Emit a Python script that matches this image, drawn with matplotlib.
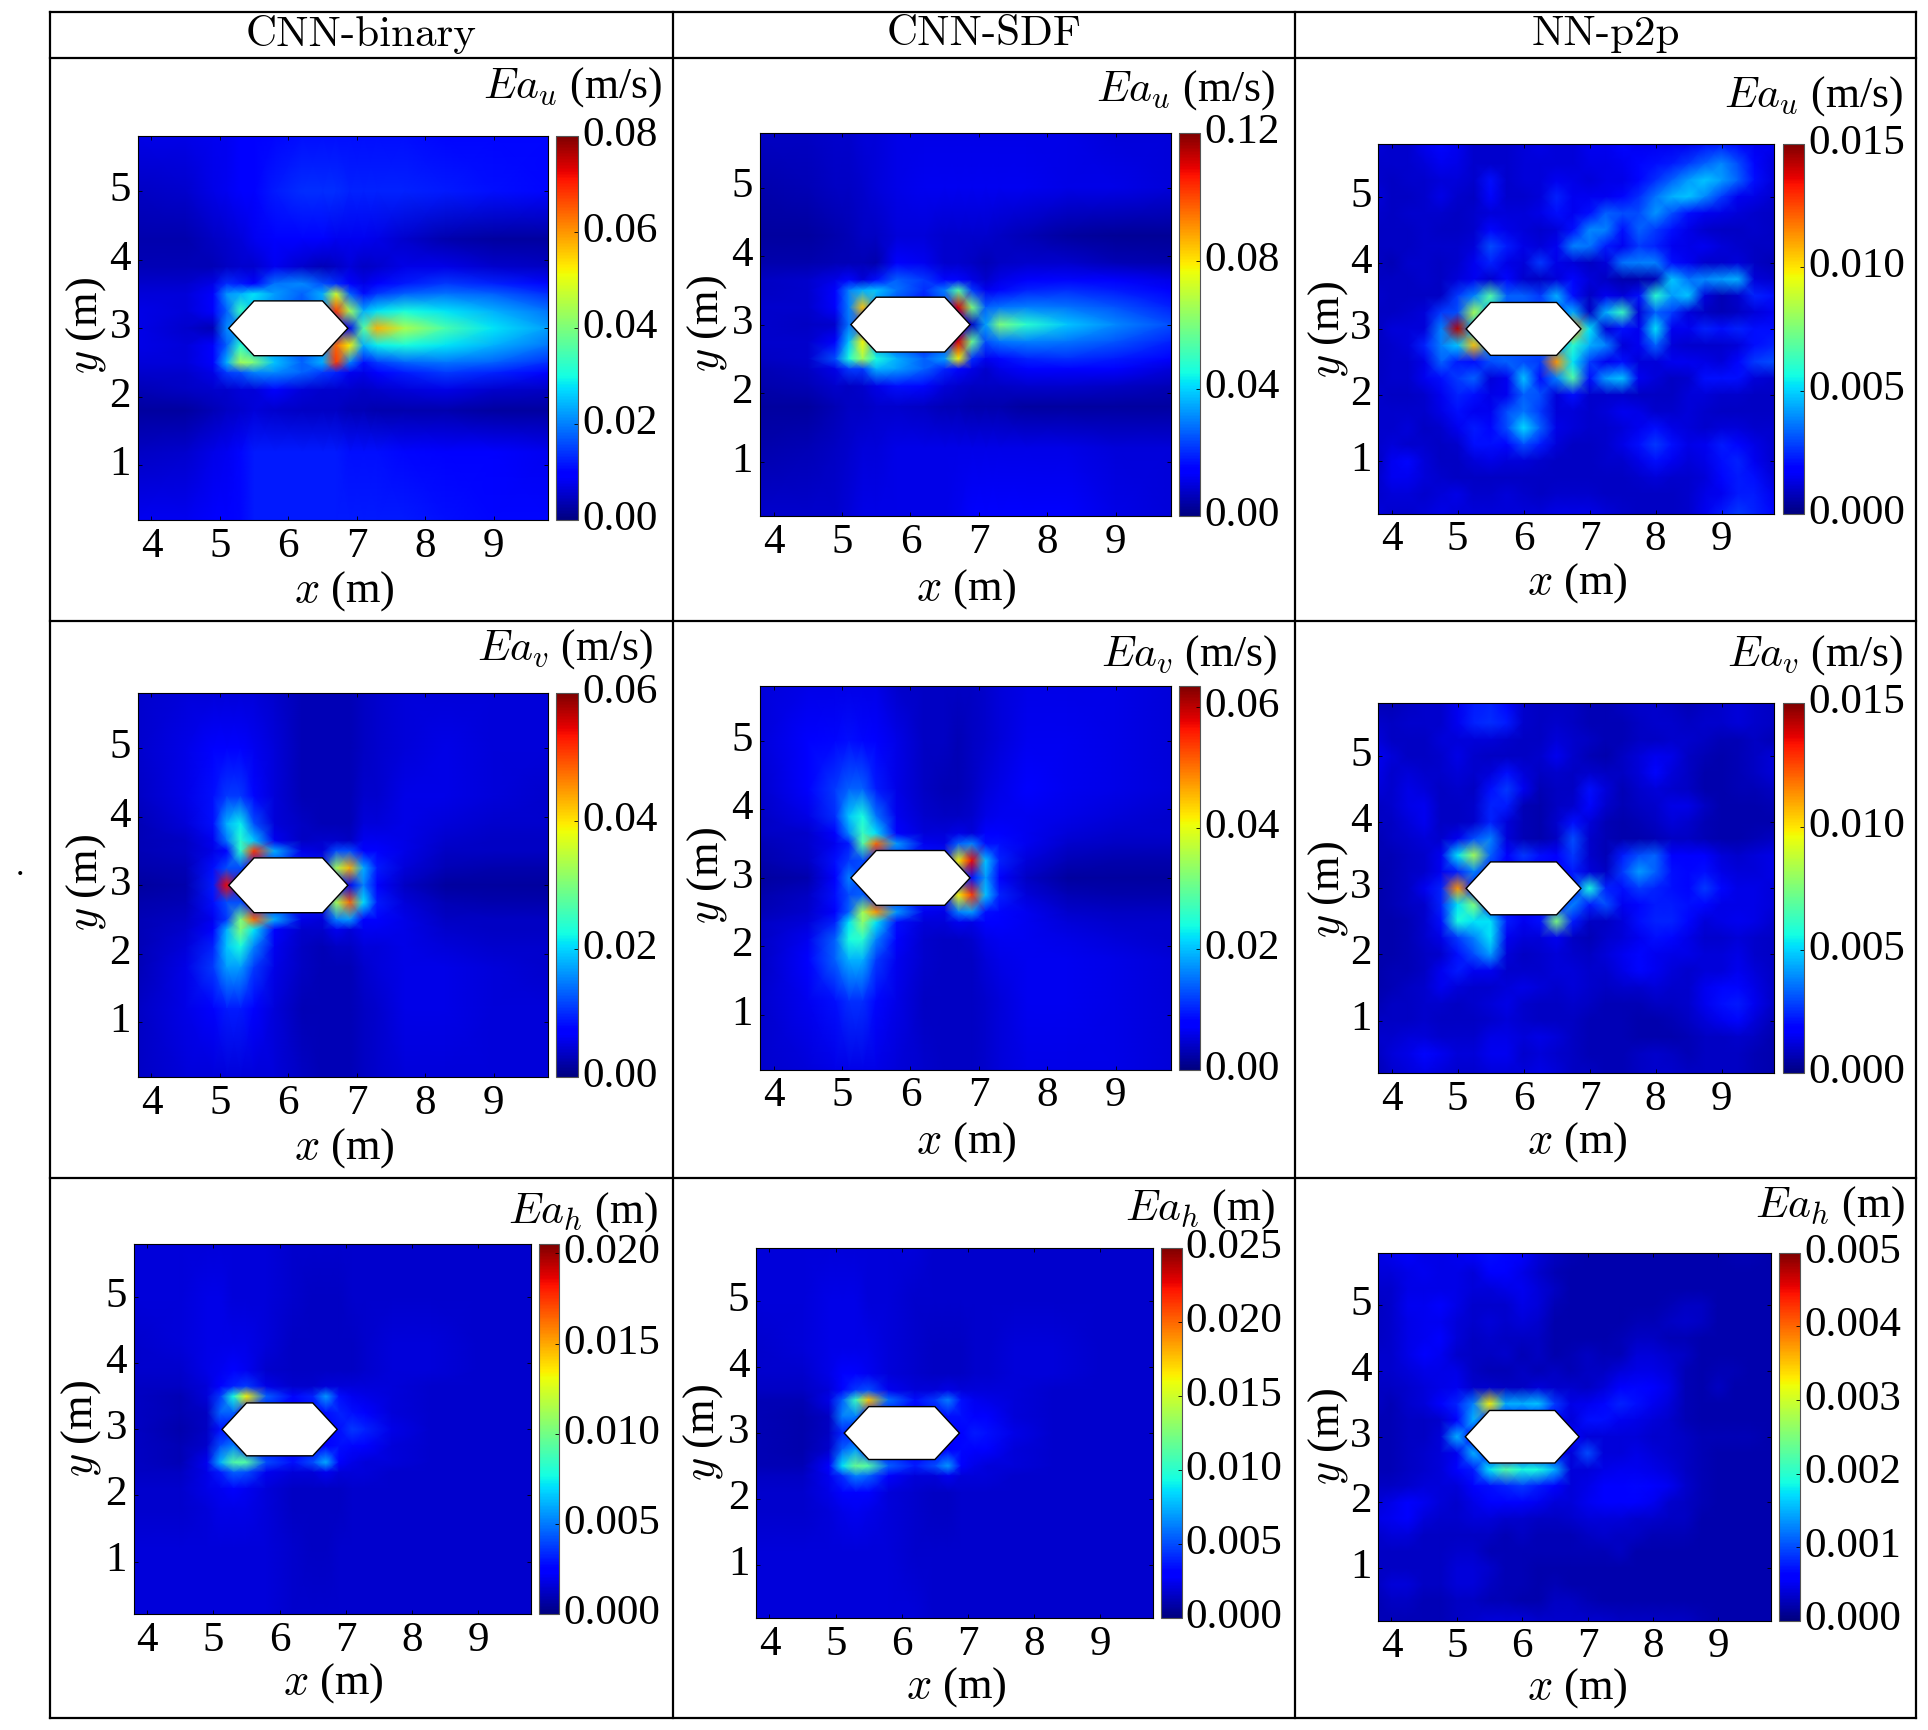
import numpy as np
import matplotlib
matplotlib.use('Agg')
import matplotlib.pyplot as plt
from matplotlib.lines import Line2D
from matplotlib.patches import Polygon
from matplotlib.transforms import ScaledTranslation

plt.rcParams['font.family'] = ['Liberation Serif', 'DejaVu Serif']
plt.rcParams['mathtext.fontset'] = 'cm'

# sample positions, m
grid_x = [3.8, 4.5, 4.9, 5.1, 5.3, 5.5, 5.8, 6.2, 6.5, 6.7, 6.9, 7.1, 7.3, 7.7, 8.3, 9.0, 9.8]
grid_y = [5.8, 5.0, 4.3, 3.9, 3.65, 3.5, 3.25, 3.0, 2.75, 2.5, 2.35, 2.1, 1.8, 1.2, 0.2]
fine_x = [3.8, 4.0, 4.25, 4.5, 4.75, 5.0, 5.25, 5.5, 5.75, 6.0, 6.25, 6.5, 6.75, 7.0, 7.25, 7.5, 7.75, 8.0,
          8.25, 8.5, 8.75, 9.0, 9.25, 9.5, 9.8]
fine_y = [5.8, 5.5, 5.25, 5.0, 4.75, 4.5, 4.25, 4.0, 3.75, 3.5, 3.25, 3.0, 2.75, 2.5, 2.25, 2.0, 1.75, 1.5,
          1.25, 1.0, 0.75, 0.5, 0.2]

hex_x = [5.13, 5.5, 6.5, 6.87, 6.5, 5.5]
hex_y = [3.0, 3.4, 3.4, 3.0, 2.6, 2.6]

methods = ['CNN-binary', 'CNN-SDF', 'NN-p2p']
units = [r'$Ea_u$ (m/s)', r'$Ea_v$ (m/s)', r'$Ea_h$ (m)']

# error fields, percent of the top of each colour bar
binary_u = [
    [9, 9, 10, 10, 11, 12, 13, 14, 14, 14, 14, 14, 14, 14, 13, 13, 13],
    [6, 7, 9, 10, 11, 12, 15, 17, 17, 17, 16, 16, 16, 16, 15, 14, 13],
    [4, 4, 6, 7, 8, 10, 12, 12, 11, 10, 10, 10, 9, 7, 4, 3, 3],
    [5, 5, 5, 6, 7, 7, 10, 7, 5, 6, 8, 6, 7, 9, 9, 7, 6],
    [7, 7, 9, 17, 15, 11, 24, 26, 20, 17, 12, 9, 11, 15, 18, 16, 13],
    [8, 8, 12, 27, 30, 35, 28, 22, 30, 60, 22, 14, 18, 22, 24, 22, 17],
    [9, 8, 11, 22, 42, 30, 25, 20, 25, 85, 55, 30, 35, 38, 35, 30, 24],
    [9, 7, 5, 26, 20, 20, 20, 20, 20, 20, 10, 45, 72, 56, 44, 35, 28],
    [9, 8, 11, 22, 40, 30, 25, 20, 25, 80, 65, 30, 36, 38, 35, 30, 24],
    [8, 8, 12, 30, 55, 50, 32, 22, 30, 85, 25, 14, 18, 22, 24, 22, 17],
    [7, 7, 9, 18, 20, 25, 26, 22, 18, 16, 10, 9, 11, 15, 18, 16, 12],
    [5, 6, 7, 7, 8, 8, 11, 8, 7, 7, 7, 6, 7, 8, 9, 7, 6],
    [3, 3, 5, 6, 7, 8, 7, 6, 6, 6, 5, 5, 4, 4, 4, 3, 3],
    [6, 7, 9, 10, 13, 15, 15, 15, 15, 15, 14, 14, 14, 13, 12, 11, 10],
    [10, 10, 11, 12, 13, 15, 15, 15, 15, 15, 15, 15, 15, 15, 14, 13, 13]]
sdf_u = [
    [6, 6, 7, 7, 8, 8, 9, 9, 9, 9, 9, 9, 9, 9, 9, 8, 8],
    [4, 5, 6, 6, 7, 8, 9, 10, 10, 10, 10, 10, 10, 10, 9, 9, 8],
    [3, 3, 4, 5, 6, 6, 8, 8, 7, 7, 7, 7, 6, 5, 3, 2, 2],
    [4, 4, 5, 5, 5, 4, 11, 10, 7, 7, 6, 5, 6, 7, 7, 5, 4],
    [6, 7, 9, 13, 8, 14, 22, 18, 13, 13, 9, 7, 9, 12, 13, 12, 9],
    [6, 7, 11, 25, 30, 32, 24, 17, 25, 45, 18, 10, 13, 16, 17, 15, 12],
    [7, 7, 11, 25, 70, 25, 18, 14, 18, 92, 50, 22, 24, 25, 24, 21, 16],
    [7, 6, 7, 24, 15, 15, 15, 15, 15, 15, 6, 28, 50, 40, 32, 26, 20],
    [7, 7, 12, 32, 65, 25, 18, 14, 18, 92, 48, 20, 24, 25, 24, 21, 16],
    [6, 7, 20, 38, 55, 38, 30, 22, 28, 65, 17, 10, 13, 16, 17, 15, 12],
    [5, 6, 9, 18, 18, 30, 28, 22, 16, 13, 9, 7, 9, 11, 12, 11, 8],
    [4, 5, 7, 6, 7, 9, 14, 13, 8, 7, 6, 6, 6, 7, 7, 6, 5],
    [3, 3, 5, 6, 6, 7, 7, 6, 5, 5, 4, 4, 4, 3, 3, 3, 3],
    [4, 5, 6, 7, 8, 8, 9, 9, 9, 9, 9, 9, 9, 9, 9, 8, 8],
    [7, 7, 7, 8, 9, 9, 9, 9, 9, 10, 11, 12, 12, 12, 11, 9, 8]]
p2p_u = [
    [8, 7, 7, 10, 13, 10, 7, 7, 7, 8, 9, 8, 8, 10, 10, 13, 10, 10, 10, 10, 14, 15, 13, 10, 10],
    [7, 7, 7, 8, 10, 9, 7, 7, 7, 8, 8, 8, 8, 9, 9, 10, 13, 14, 15, 18, 22, 26, 20, 13, 8],
    [7, 6, 7, 7, 8, 8, 7, 14, 7, 8, 8, 10, 9, 8, 9, 9, 13, 17, 22, 28, 32, 28, 22, 14, 8],
    [8, 6, 6, 7, 9, 7, 6, 13, 7, 7, 8, 16, 10, 10, 10, 13, 17, 24, 30, 32, 26, 18, 10, 9, 7],
    [7, 6, 7, 7, 7, 6, 7, 8, 8, 8, 9, 14, 10, 14, 22, 20, 20, 27, 20, 14, 10, 9, 8, 7, 6],
    [6, 6, 6, 7, 6, 6, 7, 13, 9, 8, 7, 8, 14, 26, 25, 14, 22, 18, 14, 9, 7, 6, 6, 7, 6],
    [6, 6, 6, 7, 7, 7, 8, 20, 15, 9, 8, 10, 25, 24, 15, 10, 18, 16, 10, 9, 10, 8, 7, 6, 6],
    [6, 5, 7, 7, 6, 7, 10, 16, 9, 8, 18, 9, 8, 6, 8, 24, 25, 25, 14, 10, 7, 7, 8, 6, 5],
    [6, 6, 6, 7, 6, 8, 10, 7, 13, 7, 6, 8, 13, 8, 6, 4, 4, 5, 32, 24, 26, 28, 30, 8, 7],
    [7, 6, 6, 6, 6, 18, 25, 45, 22, 22, 18, 30, 14, 6, 10, 8, 14, 40, 28, 32, 8, 5, 7, 16, 14],
    [6, 6, 7, 8, 18, 20, 55, 30, 20, 20, 20, 20, 30, 6, 30, 42, 8, 22, 18, 8, 6, 5, 6, 8, 10],
    [6, 8, 8, 8, 25, 95, 30, 20, 20, 20, 20, 20, 75, 35, 8, 14, 10, 35, 10, 10, 16, 14, 16, 14, 14],
    [6, 7, 8, 16, 25, 32, 70, 25, 20, 20, 20, 25, 40, 30, 25, 8, 10, 22, 8, 7, 7, 7, 8, 14, 16],
    [6, 7, 7, 9, 22, 15, 14, 20, 22, 20, 18, 75, 35, 18, 10, 14, 8, 8, 10, 10, 9, 8, 13, 18, 20],
    [6, 7, 7, 10, 14, 18, 22, 8, 10, 32, 14, 25, 45, 14, 28, 32, 10, 8, 6, 7, 14, 14, 14, 8, 7],
    [7, 6, 6, 7, 10, 16, 14, 9, 10, 22, 20, 8, 14, 7, 7, 7, 6, 6, 6, 8, 8, 7, 7, 6, 6],
    [7, 7, 7, 7, 9, 14, 10, 10, 20, 24, 18, 8, 8, 7, 8, 10, 9, 7, 7, 8, 7, 6, 6, 6, 6],
    [7, 7, 8, 6, 7, 10, 15, 13, 20, 34, 22, 9, 8, 7, 7, 8, 10, 14, 9, 8, 7, 8, 8, 7, 7],
    [7, 8, 7, 7, 6, 7, 14, 14, 13, 20, 15, 8, 6, 6, 7, 9, 14, 18, 14, 9, 10, 15, 13, 9, 7],
    [6, 10, 13, 8, 6, 6, 8, 9, 8, 8, 7, 6, 6, 6, 7, 7, 9, 14, 10, 8, 9, 14, 16, 10, 7],
    [7, 10, 10, 8, 7, 6, 6, 6, 6, 6, 6, 6, 6, 6, 6, 6, 7, 8, 7, 7, 8, 13, 15, 14, 8],
    [7, 8, 8, 7, 8, 9, 7, 7, 8, 7, 6, 7, 7, 7, 6, 6, 6, 6, 6, 7, 9, 10, 15, 15, 10],
    [8, 7, 7, 8, 9, 8, 8, 8, 8, 8, 8, 9, 9, 9, 8, 7, 6, 6, 6, 7, 10, 15, 18, 16, 13]]
binary_v = [
    [7, 8, 8, 8, 8, 8, 7, 5, 5, 5, 5, 6, 7, 8, 8, 8, 8],
    [7, 9, 11, 11, 11, 10, 8, 5, 5, 5, 5, 6, 7, 8, 9, 8, 8],
    [6, 9, 14, 18, 18, 13, 8, 5, 5, 5, 5, 7, 7, 9, 9, 8, 7],
    [5, 8, 14, 30, 36, 20, 8, 6, 5, 5, 5, 8, 8, 9, 8, 7, 7],
    [5, 6, 10, 24, 40, 32, 10, 6, 7, 7, 6, 10, 10, 9, 7, 6, 6],
    [5, 6, 9, 13, 40, 85, 30, 9, 8, 20, 20, 12, 12, 9, 6, 6, 6],
    [4, 5, 14, 20, 20, 15, 15, 15, 15, 55, 72, 30, 15, 8, 5, 4, 4],
    [3, 4, 15, 90, 15, 15, 15, 15, 15, 15, 10, 25, 12, 6, 3, 3, 3],
    [4, 5, 14, 20, 20, 15, 15, 15, 15, 55, 80, 35, 15, 8, 5, 4, 4],
    [5, 6, 10, 18, 50, 80, 30, 9, 8, 25, 28, 12, 12, 9, 6, 6, 6],
    [5, 7, 12, 30, 50, 35, 12, 7, 7, 10, 8, 10, 10, 9, 7, 6, 6],
    [5, 8, 16, 32, 38, 25, 10, 6, 5, 6, 6, 8, 8, 9, 8, 7, 7],
    [5, 9, 18, 28, 28, 18, 9, 6, 5, 5, 5, 7, 8, 9, 9, 8, 7],
    [6, 9, 12, 15, 15, 12, 8, 5, 5, 5, 5, 6, 7, 9, 9, 8, 8],
    [6, 8, 8, 8, 8, 8, 8, 6, 5, 5, 5, 6, 7, 8, 8, 8, 8]]
sdf_v = [
    [8, 9, 9, 9, 9, 9, 7, 6, 6, 6, 6, 7, 8, 9, 9, 9, 8],
    [8, 11, 13, 14, 13, 11, 9, 6, 6, 5, 6, 7, 8, 10, 10, 9, 8],
    [7, 11, 18, 22, 22, 15, 9, 6, 5, 5, 6, 8, 9, 11, 10, 9, 8],
    [6, 9, 17, 32, 38, 24, 10, 7, 6, 6, 7, 9, 10, 10, 9, 8, 7],
    [6, 7, 12, 26, 42, 34, 12, 8, 8, 9, 8, 12, 11, 10, 8, 7, 7],
    [5, 7, 10, 15, 45, 80, 28, 10, 9, 22, 25, 14, 14, 10, 7, 6, 6],
    [4, 6, 14, 18, 20, 15, 15, 15, 15, 65, 90, 32, 16, 8, 5, 4, 4],
    [3, 4, 12, 25, 15, 15, 15, 15, 15, 15, 14, 28, 12, 6, 3, 3, 3],
    [4, 6, 14, 20, 22, 15, 15, 15, 15, 65, 85, 32, 16, 8, 5, 4, 4],
    [5, 7, 12, 22, 55, 75, 28, 10, 9, 25, 28, 14, 13, 10, 7, 6, 6],
    [6, 8, 16, 35, 52, 35, 14, 8, 8, 10, 9, 11, 11, 10, 8, 7, 7],
    [6, 10, 22, 38, 40, 25, 11, 7, 6, 6, 7, 9, 10, 10, 9, 8, 7],
    [6, 11, 22, 30, 30, 18, 10, 7, 6, 6, 6, 8, 9, 10, 10, 9, 8],
    [7, 10, 14, 17, 17, 13, 9, 6, 6, 6, 6, 7, 8, 10, 10, 9, 8],
    [7, 8, 9, 9, 9, 9, 8, 7, 6, 6, 6, 7, 8, 9, 9, 9, 8]]
p2p_v = [
    [5, 5, 6, 7, 7, 10, 15, 16, 13, 7, 6, 6, 6, 5, 5, 6, 7, 7, 6, 5, 6, 7, 8, 7, 6],
    [7, 6, 7, 7, 7, 10, 16, 17, 15, 7, 6, 7, 6, 5, 5, 5, 6, 7, 7, 6, 7, 7, 8, 7, 6],
    [8, 6, 6, 6, 8, 8, 8, 8, 7, 6, 6, 8, 7, 6, 5, 5, 6, 6, 7, 7, 6, 5, 5, 6, 5],
    [10, 8, 6, 6, 7, 9, 7, 6, 6, 6, 7, 10, 7, 5, 4, 6, 8, 10, 9, 6, 5, 4, 5, 6, 8],
    [9, 7, 8, 7, 7, 8, 7, 8, 14, 8, 6, 7, 6, 7, 6, 6, 8, 13, 8, 6, 4, 4, 5, 6, 8],
    [8, 7, 9, 8, 6, 7, 6, 14, 18, 10, 5, 6, 6, 14, 8, 5, 7, 8, 7, 6, 4, 4, 5, 5, 6],
    [6, 7, 9, 10, 6, 6, 7, 16, 15, 5, 4, 6, 7, 13, 7, 5, 6, 7, 9, 9, 6, 4, 4, 4, 5],
    [6, 6, 8, 10, 6, 6, 7, 16, 8, 5, 4, 7, 14, 8, 5, 4, 5, 6, 8, 7, 5, 4, 4, 4, 4],
    [5, 6, 7, 8, 7, 10, 20, 25, 8, 5, 4, 6, 20, 7, 5, 4, 4, 5, 6, 6, 5, 4, 4, 5, 6],
    [5, 5, 6, 7, 10, 35, 55, 22, 12, 18, 14, 12, 18, 7, 5, 15, 20, 22, 12, 11, 11, 8, 7, 8, 9],
    [4, 5, 6, 7, 10, 16, 25, 15, 12, 12, 12, 12, 15, 8, 6, 18, 28, 22, 14, 13, 14, 9, 8, 8, 9],
    [4, 5, 6, 10, 16, 75, 15, 12, 12, 12, 12, 12, 15, 38, 16, 14, 18, 16, 14, 13, 18, 13, 9, 9, 8],
    [4, 5, 6, 7, 16, 35, 50, 15, 12, 12, 12, 15, 25, 15, 20, 10, 13, 15, 15, 14, 13, 9, 9, 9, 8],
    [4, 4, 5, 7, 14, 38, 35, 35, 15, 10, 14, 50, 15, 6, 6, 8, 14, 16, 16, 13, 8, 9, 10, 9, 7],
    [4, 4, 5, 7, 9, 18, 25, 35, 10, 8, 8, 10, 6, 5, 7, 8, 10, 14, 13, 9, 7, 7, 8, 7, 6],
    [4, 4, 5, 6, 7, 14, 20, 28, 8, 6, 7, 8, 7, 6, 8, 10, 13, 10, 9, 9, 8, 8, 9, 7, 6],
    [4, 5, 5, 6, 10, 15, 10, 10, 7, 7, 7, 8, 8, 7, 7, 9, 13, 10, 8, 7, 8, 8, 10, 8, 6],
    [4, 5, 6, 7, 10, 8, 7, 7, 8, 9, 8, 7, 8, 7, 6, 7, 7, 8, 7, 7, 10, 13, 13, 9, 6],
    [5, 6, 6, 7, 7, 6, 7, 8, 9, 7, 6, 6, 7, 6, 5, 5, 5, 6, 6, 7, 10, 14, 15, 10, 6],
    [6, 6, 6, 7, 6, 6, 6, 7, 8, 7, 6, 6, 6, 5, 5, 5, 4, 4, 5, 6, 8, 10, 13, 8, 5],
    [7, 7, 8, 8, 7, 7, 7, 9, 9, 8, 9, 8, 6, 5, 5, 5, 4, 4, 4, 5, 6, 6, 7, 6, 4],
    [6, 8, 9, 13, 10, 8, 8, 10, 10, 7, 8, 7, 6, 5, 5, 5, 6, 7, 6, 5, 6, 6, 6, 5, 4],
    [5, 7, 8, 9, 8, 7, 7, 8, 8, 8, 9, 8, 6, 6, 5, 5, 6, 7, 7, 6, 6, 6, 6, 5, 4]]
binary_h = [
    [8, 8, 8, 8, 8, 8, 8, 7, 7, 7, 7, 7, 7, 7, 7, 7, 7],
    [8, 8, 9, 9, 8, 8, 8, 7, 6, 6, 6, 7, 7, 7, 7, 7, 7],
    [7, 8, 9, 9, 9, 9, 8, 6, 6, 6, 6, 6, 7, 8, 8, 7, 7],
    [7, 7, 9, 10, 11, 10, 7, 6, 6, 6, 6, 6, 7, 8, 8, 7, 7],
    [6, 6, 8, 12, 16, 18, 9, 7, 7, 8, 8, 8, 8, 8, 7, 7, 7],
    [6, 5, 8, 18, 38, 65, 22, 13, 16, 28, 14, 10, 9, 8, 7, 7, 7],
    [6, 5, 6, 22, 22, 12, 12, 12, 12, 14, 16, 14, 12, 8, 7, 7, 7],
    [6, 4, 6, 14, 12, 12, 12, 12, 12, 12, 14, 18, 16, 9, 7, 7, 7],
    [6, 5, 7, 20, 25, 12, 12, 12, 12, 12, 14, 13, 12, 8, 7, 7, 7],
    [6, 5, 10, 30, 45, 45, 20, 14, 20, 30, 12, 9, 8, 8, 7, 7, 7],
    [6, 6, 9, 15, 22, 20, 10, 8, 8, 10, 8, 8, 8, 7, 7, 7, 7],
    [7, 7, 9, 10, 11, 10, 8, 6, 6, 6, 6, 7, 7, 7, 7, 7, 7],
    [7, 7, 8, 9, 9, 9, 8, 6, 6, 6, 6, 7, 7, 7, 7, 7, 7],
    [8, 8, 8, 8, 8, 8, 8, 7, 6, 6, 7, 7, 7, 7, 7, 7, 7],
    [8, 8, 8, 8, 8, 8, 8, 7, 7, 7, 7, 7, 7, 7, 7, 7, 7]]
sdf_h = [
    [8, 8, 8, 8, 8, 8, 8, 8, 7, 7, 7, 7, 7, 7, 7, 7, 7],
    [8, 8, 9, 9, 9, 8, 8, 7, 7, 7, 7, 7, 7, 7, 7, 7, 7],
    [7, 8, 9, 9, 9, 9, 8, 7, 6, 6, 6, 7, 7, 8, 8, 7, 7],
    [7, 7, 9, 11, 11, 10, 8, 7, 6, 6, 6, 7, 7, 8, 8, 7, 7],
    [6, 6, 8, 13, 18, 20, 10, 8, 8, 9, 8, 8, 8, 8, 7, 7, 7],
    [5, 5, 9, 22, 42, 70, 24, 14, 18, 25, 14, 10, 9, 8, 7, 7, 7],
    [5, 4, 6, 25, 25, 12, 12, 12, 12, 14, 14, 12, 11, 8, 7, 7, 7],
    [5, 4, 6, 16, 12, 12, 12, 12, 12, 12, 12, 15, 14, 9, 7, 7, 7],
    [5, 4, 7, 22, 28, 12, 12, 12, 12, 12, 13, 12, 11, 8, 7, 7, 7],
    [5, 5, 12, 35, 48, 45, 22, 15, 20, 28, 12, 9, 8, 8, 7, 7, 7],
    [6, 6, 10, 17, 25, 22, 11, 8, 8, 10, 8, 8, 8, 7, 7, 7, 7],
    [7, 7, 9, 11, 12, 11, 8, 7, 6, 6, 7, 7, 7, 7, 7, 7, 7],
    [7, 7, 8, 9, 10, 9, 8, 7, 6, 6, 7, 7, 7, 7, 7, 7, 7],
    [8, 8, 8, 8, 8, 8, 8, 7, 7, 7, 7, 7, 7, 7, 7, 7, 7],
    [8, 8, 8, 8, 8, 8, 8, 8, 7, 7, 7, 7, 7, 7, 7, 7, 7]]
p2p_h = [
    [9, 10, 11, 9, 9, 10, 11, 14, 13, 11, 8, 6, 5, 4, 4, 4, 4, 4, 4, 4, 4, 4, 5, 5, 4],
    [8, 8, 9, 10, 9, 9, 8, 11, 11, 9, 7, 5, 4, 4, 4, 4, 4, 4, 4, 4, 4, 4, 4, 4, 4],
    [7, 7, 9, 9, 9, 9, 8, 8, 9, 10, 8, 6, 4, 4, 4, 4, 4, 4, 4, 4, 4, 4, 4, 4, 4],
    [6, 7, 10, 10, 11, 9, 7, 7, 7, 9, 8, 5, 4, 4, 4, 4, 4, 4, 5, 6, 6, 4, 4, 4, 4],
    [6, 7, 9, 10, 10, 8, 7, 8, 7, 8, 7, 4, 4, 4, 4, 4, 5, 5, 6, 7, 6, 4, 4, 4, 4],
    [6, 7, 9, 10, 11, 8, 6, 7, 6, 6, 6, 4, 4, 4, 4, 5, 6, 6, 5, 5, 4, 4, 4, 4, 4],
    [7, 7, 9, 11, 10, 7, 6, 6, 7, 5, 6, 4, 5, 6, 5, 5, 8, 8, 7, 6, 4, 4, 4, 4, 4],
    [7, 7, 8, 9, 9, 9, 6, 5, 5, 6, 5, 6, 5, 6, 6, 8, 9, 9, 8, 5, 4, 5, 5, 4, 4],
    [6, 6, 7, 8, 9, 10, 7, 7, 6, 6, 8, 7, 7, 6, 8, 11, 13, 12, 9, 5, 4, 6, 4, 4, 4],
    [6, 5, 7, 8, 12, 16, 25, 65, 30, 30, 32, 18, 9, 10, 13, 16, 14, 10, 8, 5, 4, 4, 4, 4, 4],
    [5, 5, 6, 6, 7, 11, 30, 15, 12, 12, 12, 12, 8, 14, 14, 10, 9, 8, 7, 5, 4, 4, 4, 4, 4],
    [5, 5, 6, 6, 8, 30, 12, 12, 12, 12, 12, 12, 12, 8, 8, 8, 8, 7, 7, 6, 5, 5, 5, 5, 4],
    [5, 5, 6, 7, 8, 10, 30, 15, 12, 12, 12, 12, 8, 20, 8, 8, 9, 8, 7, 6, 5, 4, 4, 4, 4],
    [5, 5, 6, 7, 8, 12, 15, 35, 45, 38, 38, 30, 8, 8, 9, 10, 10, 9, 8, 6, 5, 4, 4, 4, 4],
    [6, 6, 7, 8, 8, 8, 12, 14, 16, 18, 15, 12, 8, 9, 11, 12, 13, 12, 10, 7, 5, 4, 4, 4, 4],
    [8, 9, 11, 10, 8, 7, 9, 12, 12, 11, 10, 8, 8, 10, 12, 11, 11, 10, 7, 6, 5, 4, 4, 4, 4],
    [9, 10, 11, 8, 7, 7, 8, 8, 7, 7, 6, 6, 7, 8, 8, 8, 7, 7, 6, 6, 4, 4, 4, 4, 4],
    [7, 8, 8, 6, 6, 6, 6, 6, 5, 6, 5, 5, 5, 6, 7, 6, 6, 5, 5, 5, 4, 4, 4, 4, 4],
    [6, 6, 6, 6, 6, 7, 7, 5, 5, 5, 5, 5, 5, 5, 5, 6, 4, 4, 4, 4, 4, 4, 4, 4, 4],
    [6, 6, 6, 6, 6, 8, 8, 7, 5, 5, 4, 4, 4, 4, 4, 4, 4, 4, 4, 4, 4, 4, 4, 4, 4],
    [6, 8, 8, 6, 6, 8, 8, 6, 5, 5, 4, 5, 4, 4, 4, 4, 4, 4, 4, 4, 4, 4, 4, 4, 4],
    [5, 6, 6, 5, 5, 6, 6, 5, 5, 4, 4, 6, 6, 5, 4, 4, 4, 4, 4, 4, 4, 4, 4, 4, 4],
    [5, 5, 5, 5, 5, 6, 7, 8, 8, 8, 7, 7, 7, 7, 7, 6, 6, 6, 6, 6, 5, 4, 4, 4, 4]]

fields = [binary_u, sdf_u, p2p_u, binary_v, sdf_v, p2p_v, binary_h, sdf_h, p2p_h]
bar_tops = [0.08, 0.12, 0.015, 0.06, 0.0635, 0.015, 0.0205, 0.025, 0.005]
bar_ticks = [[0, 0.02, 0.04, 0.06, 0.08], [0, 0.04, 0.08, 0.12], [0, 0.005, 0.01, 0.015],
             [0, 0.02, 0.04, 0.06], [0, 0.02, 0.04, 0.06], [0, 0.005, 0.01, 0.015],
             [0, 0.005, 0.01, 0.015, 0.02], [0, 0.005, 0.01, 0.015, 0.02, 0.025],
             [0, 0.001, 0.002, 0.003, 0.004, 0.005]]
bar_fmt = ['%.2f', '%.2f', '%.3f', '%.2f', '%.2f', '%.3f', '%.3f', '%.3f', '%.3f']

# layout in pixels of the 1568x1407 view: left, right, top, bottom of axes, then colour bar left, right
W, H = 1568.0, 1407.0
boxes = [(112, 446, 111, 423, 452, 470), (618, 952, 108, 420, 959, 976), (1121, 1443, 117, 418, 1450, 1467),
         (112, 446, 564, 876, 452, 470), (618, 952, 558, 870, 959, 976), (1121, 1443, 572, 873, 1450, 1467),
         (109, 432, 1012, 1313, 438, 455), (615, 938, 1015, 1316, 944, 961), (1121, 1440, 1019, 1318, 1447, 1464)]
unit_pos = [(538, 71), (1037, 73), (1548, 78), (531, 528), (1039, 533), (1548, 533),
            (535, 986), (1037, 983), (1549, 981)]
xlabel_pos = [(280, 481), (786, 479), (1283, 474), (280, 934), (786, 929), (1283, 929),
              (271, 1369), (778, 1372), (1283, 1373)]
ylabel_pos = [(70, 265), (575, 263), (1080, 268), (70, 718), (575, 712), (1080, 723),
              (66, 1162), (572, 1165), (1080, 1168)]


def fx(px):
    return px / W


def fy(px):
    return 1 - px / H


fig = plt.figure(figsize=(19.28, 17.30), dpi=100)
nudge_up = ScaledTranslation(0, 3.5 / 72, fig.dpi_scale_trans)

for i in range(9):
    left, right, top, bottom, cleft, cright = boxes[i]
    ax = fig.add_axes([fx(left), fy(bottom), (right - left) / W, (bottom - top) / H])
    cax = fig.add_axes([fx(cleft), fy(bottom), (cright - cleft) / W, (bottom - top) / H])

    values = np.array(fields[i]) / 100.0 * bar_tops[i]
    if i % 3 == 2:
        xs, ys = fine_x, fine_y
    else:
        xs, ys = grid_x, grid_y
    mesh = ax.pcolormesh(xs, ys, values, shading='gouraud', cmap='jet', vmin=0, vmax=bar_tops[i])
    ax.add_patch(Polygon(np.column_stack([hex_x, hex_y]), closed=True, facecolor='white',
                         edgecolor='black', linewidth=1.0, zorder=3))
    ax.set_xlim(3.8, 9.8)
    ax.set_ylim(0.2, 5.8)
    ax.set_xticks([4, 5, 6, 7, 8, 9])
    ax.set_yticks([1, 2, 3, 4, 5])
    ax.tick_params(direction='in', length=3, width=0.6, top=True, right=True, labelsize=31, pad=5)
    for s in ax.spines.values():
        s.set_linewidth(0.8)
    for t in ax.get_yticklabels():
        t.set_transform(t.get_transform() + nudge_up)

    cb = fig.colorbar(mesh, cax=cax)
    cb.set_ticks(bar_ticks[i])
    cb.set_ticklabels([bar_fmt[i] % t for t in bar_ticks[i]])
    cax.tick_params(direction='in', length=3, width=0.6, labelsize=31, pad=3)
    cb.outline.set_linewidth(0.8)
    cb.outline.set_edgecolor('#555555')
    for t in cax.get_yticklabels():
        t.set_transform(t.get_transform() + nudge_up)

    fig.text(fx(unit_pos[i][0]), fy(unit_pos[i][1]), units[i // 3], ha='right', va='center', fontsize=31.5)
    fig.text(fx(xlabel_pos[i][0]), fy(xlabel_pos[i][1]), r'$x$ (m)', ha='center', va='center', fontsize=32)
    fig.text(fx(ylabel_pos[i][0]), fy(ylabel_pos[i][1]), r'$y$ (m)', ha='center', va='center',
             rotation=90, fontsize=32)

# table rules
for x in [41, 547, 1053, 1558]:
    fig.add_artist(Line2D([fx(x), fx(x)], [fy(10), fy(1397)], color='black', linewidth=1.6))
for y in [10, 47, 505, 958, 1397]:
    fig.add_artist(Line2D([fx(41), fx(1558)], [fy(y), fy(y)], color='black', linewidth=1.6))

for j in range(3):
    fig.text(fx([294, 800, 1306][j]), fy(28), methods[j], ha='center', va='center',
             fontsize=31, family='cmr10')

fig.text(fx(16), fy(705), '.', ha='center', va='center', fontsize=24)

fig.savefig('out.png', dpi=100)
